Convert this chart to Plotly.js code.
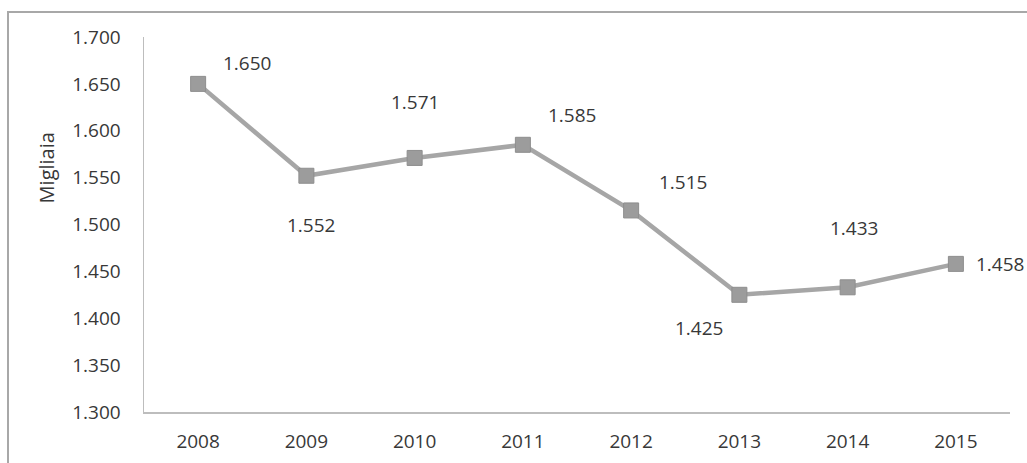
<!DOCTYPE html>
<html>
<head>
<meta charset="utf-8">
<script src="https://cdn.plot.ly/plotly-3.0.1.min.js"></script>
<style>
html,body{margin:0;padding:0;background:#fff;overflow:hidden;}
#wrap{position:relative;width:1027px;height:463px;}
#chart{position:absolute;left:0;top:0;width:1027px;height:463px;}
#frame{position:absolute;left:7px;top:11px;width:1100px;height:500px;border:2px solid #a8a8a8;pointer-events:none;}
</style>
</head>
<body>
<div id="wrap"><div id="chart"></div><div id="frame"></div></div>
<script>
// Data
const years = ["2008","2009","2010","2011","2012","2013","2014","2015"];
const values = [1650, 1552, 1571, 1585, 1515, 1425, 1433, 1458];
const tickVals = [1300,1350,1400,1450,1500,1550,1600,1650,1700];
const tickText = ["1.300","1.350","1.400","1.450","1.500","1.550","1.600","1.650","1.700"];
const yTitle = "Migliaia";

// Label offsets (pixels) – styling only
const labelDX = [49, 5, 0, 49, 52, -40, 6, 44];
const labelDY = [21, -49, 56, 30, 28, -33, 59, 0];

function fmt(v){ return String(v).replace(/\B(?=(\d{3})+(?!\d))/g, "."); }

const FONT = "Open Sans, Noto Sans, sans-serif";
const TXT = "#383838";

const annotations = years.map((y,i)=>({
  x: i, y: values[i], xref:"x", yref:"y",
  text: fmt(values[i]), showarrow:false,
  xshift: labelDX[i], yshift: labelDY[i],
  font:{family:FONT, size:19, color:TXT}
}));
annotations.push({
  xref:"paper", yref:"paper", x:-0.113, y:0.65,
  xanchor:"center", yanchor:"middle",
  text: yTitle, textangle:-90, showarrow:false,
  font:{family:FONT, size:20, color:TXT}
});

const trace = {
  x: years, y: values, type:"scatter", mode:"lines+markers",
  line:{color:"#a6a6a6", width:4.5},
  marker:{symbol:"square", size:15, color:"#9c9c9c", line:{color:"#8e8e8e", width:1}},
  cliponaxis:false, hoverinfo:"skip"
};

const layout = {
  width:1027, height:463,
  margin:{l:144, r:17, t:37, b:51},
  paper_bgcolor:"#fff", plot_bgcolor:"#fff",
  showlegend:false,
  font:{family:FONT, color:TXT},
  xaxis:{
    type:"category", range:[-0.5,7.5],
    showline:true, linecolor:"#bdbdbd", linewidth:1.5,
    showgrid:false, zeroline:false, ticks:"",
    tickfont:{family:FONT, size:19, color:TXT},
    ticklabelstandoff:12
  },
  yaxis:{
    range:[1300,1700],
    tickvals:tickVals, ticktext:tickText,
    showline:true, linecolor:"#bdbdbd", linewidth:1.5,
    showgrid:false, zeroline:false, ticks:"",
    tickfont:{family:FONT, size:19, color:TXT},
    ticklabelstandoff:18
  },
  annotations: annotations
};

Plotly.newPlot("chart", [trace], layout, {staticPlot:true, displayModeBar:false});
</script>
</body>
</html>
